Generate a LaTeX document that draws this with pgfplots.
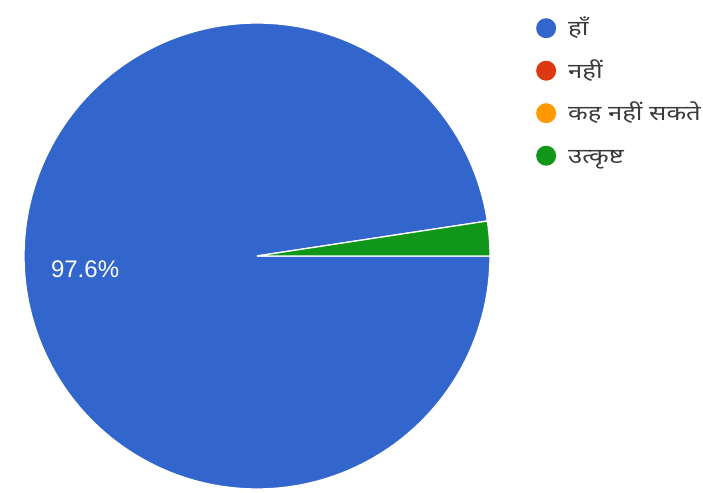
\documentclass[border=0pt]{standalone}
\usepackage{pgfplots}
\pgfplotsset{compat=1.18}
\usepackage{fontspec}
\setmainfont{Liberation Sans}
\newfontfamily\hindi[Script=Devanagari, FakeStretch=1.22]{Noto Sans}
\definecolor{gblue}{HTML}{3366CC}
\definecolor{gred}{HTML}{DC3912}
\definecolor{gorange}{HTML}{FF9900}
\definecolor{ggreen}{HTML}{109618}
\definecolor{legtext}{HTML}{3A3A3A}
% shares in percent
\def\vYes{97.6}
\def\vNo{0}
\def\vCant{0}
\def\vExc{2.4}
\begin{document}
\begin{tikzpicture}
\pgfmathsetmacro\sA{0}
\pgfmathsetmacro\eA{\sA-3.6*\vYes}
\pgfmathsetmacro\sD{\eA-3.6*\vNo-3.6*\vCant}
\pgfmathsetmacro\eD{\sD-3.6*\vExc}
\pgfmathsetmacro\mA{(\sA+\eA)/2}
\begin{axis}[
  scale only axis, width=703pt, height=492pt,
  xmin=0, xmax=703, ymin=0, ymax=492,
  hide axis, clip=false,
  legend style={at={(axis cs:531,492-16)}, anchor=north west, draw=none, fill=none,
    font=\hindi\fontsize{21}{24}\selectfont, text=legtext, row sep=17pt,
    nodes={text height=16pt, text depth=7pt, inner sep=1pt}},
  legend cell align=left,
  legend image code/.code={\fill[#1, draw=none] (0.42cm,0.3em) circle (10pt);
    \path[draw=none, fill=none] (0,0) -- (33pt,0);},
]
\addlegendimage{gblue}
\addlegendentry{हाँ}
\addlegendimage{gred}
\addlegendentry{नहीं}
\addlegendimage{gorange}
\addlegendentry{कह नहीं सकते}
\addlegendimage{ggreen}
\addlegendentry{उत्कृष्ट}
\addplot[fill=gblue, draw=white, line width=1.3pt, domain=\eA:\sA, samples=240, variable=\t, forget plot]
  ({257+233*cos(\t)}, {236+233*sin(\t)}) -- (axis cs:257,236) -- cycle;
\addplot[fill=ggreen, draw=white, line width=1.3pt, domain=\eD:\sD, samples=20, variable=\t, forget plot]
  ({257+233*cos(\t)}, {236+233*sin(\t)}) -- (axis cs:257,236) -- cycle;
\node[text=white, font=\fontsize{24}{28}\selectfont] at (axis cs:{257+0.74*233*cos(\mA)},{236+0.74*233*sin(\mA)}) {97.6\%};
\end{axis}
\pgfresetboundingbox
\path (current axis.south west) rectangle (current axis.north east);
\end{tikzpicture}
\end{document}
